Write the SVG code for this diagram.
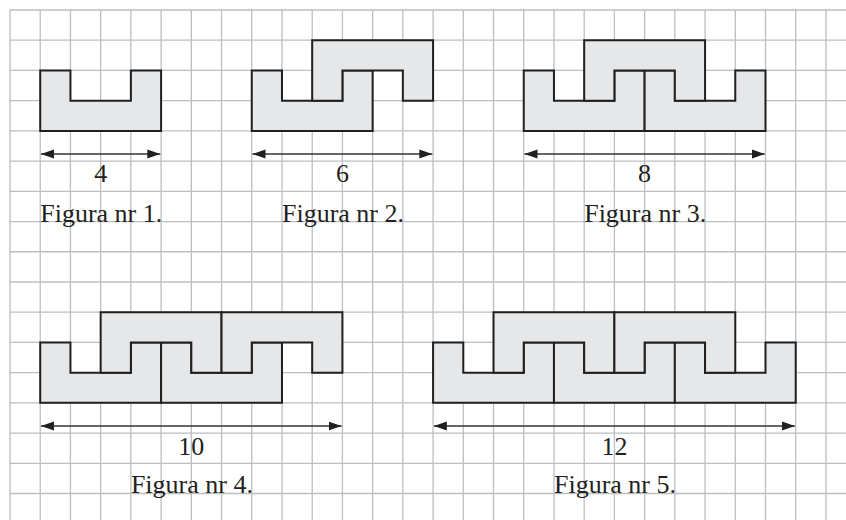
<svg xmlns="http://www.w3.org/2000/svg" xmlns:xlink="http://www.w3.org/1999/xlink" width="846" height="520" viewBox="0 0 846 520">
<style>
.grid{stroke:#bcbec0;stroke-width:1.3;fill:none}
.piece{fill:#e6e7e8;stroke:#231f20;stroke-width:2;stroke-linejoin:miter}
.dim{stroke:#333333;stroke-width:1.5;fill:none}
.lbl{font-family:"Liberation Serif","Times New Roman",serif;font-size:26px;fill:#231f20}
.num{text-anchor:middle}
</style>
<defs>
<path id="lowU" d="M0,0 h30.22 v30.22 h60.44 v-30.22 h30.22 v60.44 h-120.88 z"/>
<path id="upU" d="M0,0 h120.88 v60.44 h-30.22 v-30.22 h-60.44 v30.22 h-30.22 z"/>
<marker id="ah" markerUnits="userSpaceOnUse" markerWidth="14" markerHeight="10" refX="13" refY="4.5" orient="auto-start-reverse" viewBox="0 0 14 9">
<path d="M0,0 L13,4.5 L0,9 z" fill="#231f20"/>
</marker>
</defs>
<rect width="846" height="520" fill="#ffffff"/>
<g id="grid" class="grid">
<path d="M10,10V520M40.22,10V520M70.44,10V520M100.66,10V520M130.88,10V520M161.1,10V520M191.32,10V520M221.54,10V520M251.76,10V520M281.98,10V520M312.2,10V520M342.42,10V520M372.64,10V520M402.86,10V520M433.08,10V520M463.3,10V520M493.52,10V520M523.74,10V520M553.96,10V520M584.18,10V520M614.4,10V520M644.62,10V520M674.84,10V520M705.06,10V520M735.28,10V520M765.5,10V520M795.72,10V520M825.94,10V520"/>
<path d="M10,10H846M10,40.22H846M10,70.44H846M10,100.66H846M10,130.88H846M10,161.1H846M10,191.32H846M10,221.54H846M10,251.76H846M10,281.98H846M10,312.2H846M10,342.42H846M10,372.64H846M10,402.86H846M10,433.08H846M10,463.3H846M10,493.52H846"/>
</g>
<g id="fig1">
<use href="#lowU" xlink:href="#lowU" class="piece" x="40.22" y="70.44"/>
</g>
<g id="fig2">
<use href="#lowU" xlink:href="#lowU" class="piece" x="251.76" y="70.44"/>
<use href="#upU" xlink:href="#upU" class="piece" x="312.2" y="40.22"/>
</g>
<g id="fig3">
<use href="#lowU" xlink:href="#lowU" class="piece" x="523.74" y="70.44"/>
<use href="#lowU" xlink:href="#lowU" class="piece" x="644.62" y="70.44"/>
<use href="#upU" xlink:href="#upU" class="piece" x="584.18" y="40.22"/>
</g>
<g id="fig4">
<use href="#lowU" xlink:href="#lowU" class="piece" x="40.22" y="342.42"/>
<use href="#lowU" xlink:href="#lowU" class="piece" x="161.1" y="342.42"/>
<use href="#upU" xlink:href="#upU" class="piece" x="100.66" y="312.2"/>
<use href="#upU" xlink:href="#upU" class="piece" x="221.54" y="312.2"/>
</g>
<g id="fig5">
<use href="#lowU" xlink:href="#lowU" class="piece" x="433.08" y="342.42"/>
<use href="#lowU" xlink:href="#lowU" class="piece" x="553.96" y="342.42"/>
<use href="#lowU" xlink:href="#lowU" class="piece" x="674.84" y="342.42"/>
<use href="#upU" xlink:href="#upU" class="piece" x="493.52" y="312.2"/>
<use href="#upU" xlink:href="#upU" class="piece" x="614.4" y="312.2"/>
</g>
<g id="connectors" class="dim">
<line x1="41" y1="154" x2="160.3" y2="154" marker-start="url(#ah)" marker-end="url(#ah)"/>
<line x1="252.5" y1="154" x2="432.3" y2="154" marker-start="url(#ah)" marker-end="url(#ah)"/>
<line x1="524.5" y1="154" x2="764.7" y2="154" marker-start="url(#ah)" marker-end="url(#ah)"/>
<line x1="41" y1="426" x2="341.6" y2="426" marker-start="url(#ah)" marker-end="url(#ah)"/>
<line x1="433.9" y1="426" x2="794.9" y2="426" marker-start="url(#ah)" marker-end="url(#ah)"/>
</g>
<g id="labels" class="lbl">
<text class="num" x="100.66" y="182">4</text>
<text class="num" x="342.42" y="182">6</text>
<text class="num" x="644.62" y="182">8</text>
<text x="40.22" y="222">Figura nr 1.</text>
<text x="281.98" y="222">Figura nr 2.</text>
<text x="584.18" y="222">Figura nr 3.</text>
<text class="num" x="191.32" y="455">10</text>
<text class="num" x="614.4" y="455">12</text>
<text x="130.88" y="493">Figura nr 4.</text>
<text x="553.96" y="493">Figura nr 5.</text>
</g>
</svg>
